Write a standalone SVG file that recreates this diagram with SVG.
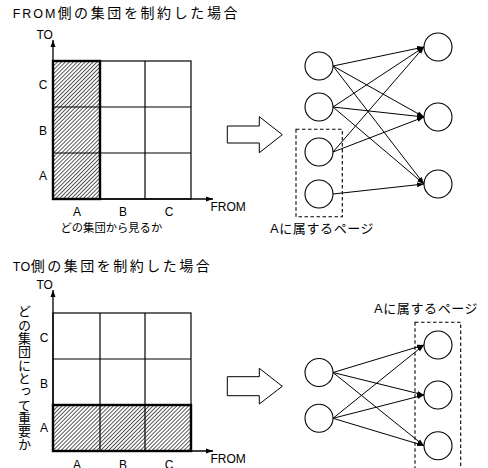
<svg xmlns="http://www.w3.org/2000/svg" width="488" height="468" viewBox="0 0 488 468">
<style>
.t{font-family:"Liberation Sans","Noto Sans CJK JP",sans-serif;fill:#000}
.l{font-size:12px}
.ti{font-size:14px}
.grid{fill:none;stroke:#000;stroke-width:1.2}
.thick{fill:url(#hatch);stroke:#000;stroke-width:2.4}
.axis{fill:none;stroke:#000;stroke-width:1.3}
.node{fill:#fff;stroke:#000;stroke-width:1.1}
.edge{fill:none;stroke:#000;stroke-width:1}
.dash{fill:none;stroke:#000;stroke-width:1.1;stroke-dasharray:3.5 2.5}
.big{fill:#fff;stroke:#000;stroke-width:1}
</style>
<defs>
<pattern id="hatch" patternUnits="userSpaceOnUse" width="2.8" height="2.8" patternTransform="rotate(45)">
<rect width="2.8" height="2.8" fill="#fff"/>
<line x1="0" y1="0" x2="0" y2="2.8" stroke="#000" stroke-width="1.3"/>
</pattern>
<marker id="ah" markerUnits="userSpaceOnUse" markerWidth="8" markerHeight="6" refX="7" refY="3" orient="auto">
<path d="M0,0.6 L7,3 L0,5.4 Z" fill="#000"/>
</marker>
<marker id="ax" markerUnits="userSpaceOnUse" markerWidth="8" markerHeight="6" refX="7" refY="3" orient="auto">
<path d="M0,0.5 L7,3 L0,5.5 Z" fill="#000"/>
</marker>
</defs>

<!-- ===== Top section ===== -->
<g id="title1">
<text class="t ti" x="12.7" y="17.5"><tspan font-size="12.5" letter-spacing="2">FROM</tspan><tspan letter-spacing="2.6">側の集団を制約した場合</tspan></text>
</g>
<g id="matrix1">
<rect class="grid" x="53" y="61" width="138" height="138"/>
<line class="grid" x1="100" y1="61" x2="100" y2="199"/>
<line class="grid" x1="145" y1="61" x2="145" y2="199"/>
<line class="grid" x1="53" y1="107" x2="191" y2="107"/>
<line class="grid" x1="53" y1="153" x2="191" y2="153"/>
<rect class="thick" x="53" y="61" width="47" height="138"/>
<line class="grid" x1="53" y1="107" x2="100" y2="107" stroke-width="1.6"/>
<line class="grid" x1="53" y1="153" x2="100" y2="153" stroke-width="1.6"/>
<line class="axis" x1="53" y1="199" x2="53" y2="40" marker-end="url(#ax)"/>
<line class="axis" x1="53" y1="199" x2="213" y2="199" marker-end="url(#ax)"/>
<text class="t l" x="36.5" y="39">TO</text>
<text class="t l" x="210.5" y="211">FROM</text>
<text class="t l" x="43" y="88.5" text-anchor="middle">C</text>
<text class="t l" x="43" y="134.5" text-anchor="middle">B</text>
<text class="t l" x="43" y="180" text-anchor="middle">A</text>
<text class="t l" x="77" y="215.5" text-anchor="middle">A</text>
<text class="t l" x="123" y="215.5" text-anchor="middle">B</text>
<text class="t l" x="169" y="215.5" text-anchor="middle">C</text>
<text class="t" x="60.5" y="232" font-size="11.3">どの集団から見るか</text>
</g>
<g id="bigarrow1">
<polygon class="big" points="227.3,126 259.3,126 259.3,116.7 282.3,134.7 259.3,152.7 259.3,143 227.3,143"/>
</g>
<g id="group1">
<rect class="dash" x="296" y="129.3" width="46.3" height="87.4"/>
<text class="t" x="270" y="233" font-size="13" letter-spacing="0.6">Aに属するページ</text>
</g>
<g id="connectors1">
<line class="edge" x1="333" y1="66" x2="424" y2="47" marker-end="url(#ah)"/>
<line class="edge" x1="333" y1="66" x2="424" y2="117" marker-end="url(#ah)"/>
<line class="edge" x1="333" y1="66" x2="424" y2="184" marker-end="url(#ah)"/>
<line class="edge" x1="333" y1="107" x2="424" y2="47" marker-end="url(#ah)"/>
<line class="edge" x1="333" y1="107" x2="424" y2="117" marker-end="url(#ah)"/>
<line class="edge" x1="333" y1="107" x2="424" y2="184" marker-end="url(#ah)"/>
<line class="edge" x1="333" y1="152" x2="424" y2="47" marker-end="url(#ah)"/>
<line class="edge" x1="333" y1="152" x2="424" y2="117" marker-end="url(#ah)"/>
<line class="edge" x1="333" y1="194" x2="424" y2="184" marker-end="url(#ah)"/>
</g>
<g id="n1L1"><circle class="node" cx="319" cy="66" r="14"/></g>
<g id="n1L2"><circle class="node" cx="319" cy="107" r="14"/></g>
<g id="n1L3"><circle class="node" cx="319" cy="152" r="14"/></g>
<g id="n1L4"><circle class="node" cx="319" cy="194" r="14"/></g>
<g id="n1R1"><circle class="node" cx="438" cy="47" r="14"/></g>
<g id="n1R2"><circle class="node" cx="438" cy="117" r="14"/></g>
<g id="n1R3"><circle class="node" cx="438" cy="184" r="14"/></g>

<!-- ===== Bottom section ===== -->
<g id="title2">
<text class="t ti" x="12.7" y="271"><tspan font-size="12.5" letter-spacing="0.5">TO</tspan><tspan letter-spacing="2.5">側の集団を制約した場合</tspan></text>
</g>
<g id="matrix2">
<rect class="grid" x="53" y="313" width="138" height="138"/>
<line class="grid" x1="100" y1="313" x2="100" y2="451"/>
<line class="grid" x1="145" y1="313" x2="145" y2="451"/>
<line class="grid" x1="53" y1="359" x2="191" y2="359"/>
<line class="grid" x1="53" y1="405" x2="191" y2="405"/>
<rect class="thick" x="53" y="405" width="138" height="46"/>
<line class="grid" x1="100" y1="405" x2="100" y2="451" stroke-width="1.6"/>
<line class="grid" x1="145" y1="405" x2="145" y2="451" stroke-width="1.6"/>
<line class="axis" x1="53" y1="451" x2="53" y2="290" marker-end="url(#ax)"/>
<line class="axis" x1="53" y1="451" x2="213" y2="451" marker-end="url(#ax)"/>
<text class="t l" x="36.5" y="289">TO</text>
<text class="t l" x="210.5" y="463">FROM</text>
<text class="t l" x="44" y="341.5" text-anchor="middle">C</text>
<text class="t l" x="44" y="387.5" text-anchor="middle">B</text>
<text class="t l" x="44" y="431.5" text-anchor="middle">A</text>
<text class="t l" x="77" y="469" text-anchor="middle">A</text>
<text class="t l" x="123" y="469" text-anchor="middle">B</text>
<text class="t l" x="169" y="469" text-anchor="middle">C</text>
<text class="t" x="23.5" y="305" font-size="13" letter-spacing="0.3" style="writing-mode:vertical-rl">どの集団にとって重要か</text>
</g>
<g id="bigarrow2">
<polygon class="big" points="227.3,376.7 259.3,376.7 259.3,368.3 282.3,386.3 259.3,404 259.3,395.7 227.3,395.7"/>
</g>
<g id="group2">
<rect class="dash" x="415" y="322.3" width="45.7" height="160"/>
<text class="t" x="374" y="313" font-size="13" letter-spacing="0.6">Aに属するページ</text>
</g>
<g id="connectors2">
<line class="edge" x1="333" y1="372.5" x2="424" y2="345" marker-end="url(#ah)"/>
<line class="edge" x1="333" y1="372.5" x2="424" y2="395" marker-end="url(#ah)"/>
<line class="edge" x1="333" y1="372.5" x2="424" y2="445.7" marker-end="url(#ah)"/>
<line class="edge" x1="333" y1="418.3" x2="424" y2="345" marker-end="url(#ah)"/>
<line class="edge" x1="333" y1="418.3" x2="424" y2="395" marker-end="url(#ah)"/>
<line class="edge" x1="333" y1="418.3" x2="424" y2="445.7" marker-end="url(#ah)"/>
</g>
<g id="n2L1"><circle class="node" cx="319" cy="372.5" r="14"/></g>
<g id="n2L2"><circle class="node" cx="319" cy="418.3" r="14"/></g>
<g id="n2R1"><circle class="node" cx="438" cy="345" r="14"/></g>
<g id="n2R2"><circle class="node" cx="438" cy="395" r="14"/></g>
<g id="n2R3"><circle class="node" cx="438" cy="445.7" r="14"/></g>
</svg>
